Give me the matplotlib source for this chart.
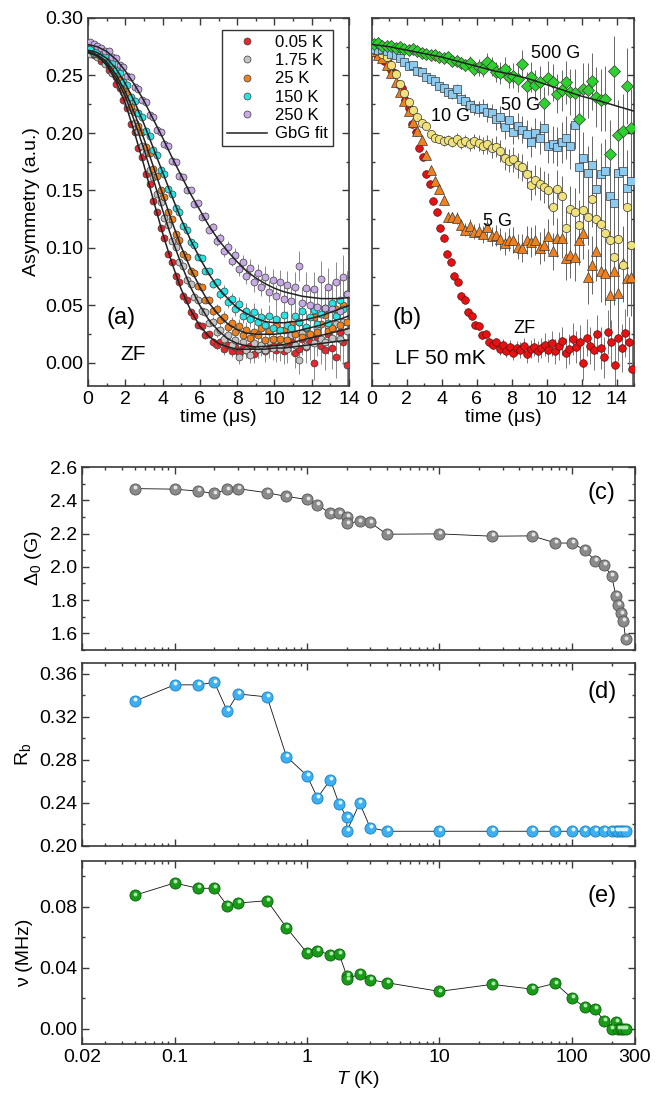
import numpy as np
import matplotlib
matplotlib.use('Agg')
import matplotlib.pyplot as plt
from matplotlib.ticker import MultipleLocator, LogLocator, NullFormatter, FormatStrFormatter
from matplotlib.transforms import offset_copy

# ---------------- panel (a): ZF asymmetry vs time ----------------
t_a = np.round(np.arange(0.1, 14.0, 0.2), 2)
a_005 = [0.271, 0.268, 0.268, 0.263, 0.262, 0.255, 0.252, 0.243, 0.239, 0.229,
         0.222, 0.208, 0.201, 0.187, 0.179, 0.164, 0.156, 0.141, 0.131, 0.117,
         0.109, 0.095, 0.088, 0.076, 0.070, 0.058, 0.055, 0.044, 0.041, 0.033,
         0.032, 0.024, 0.025, 0.018, 0.016, 0.018, 0.012, 0.016, 0.010, 0.014,
         0.009, 0.013, 0.011, 0.015, 0.008, 0.012, 0.014, 0.010, 0.013, 0.016,
         0.011, 0.017, 0.010, 0.015, 0.019, 0.009, 0.012, 0.021, 0.014, 0.018,
         0.000, 0.022, 0.015, 0.011, 0.025, 0.013, 0.005, 0.027, 0.018, -0.002]
a_175 = [0.269, 0.270, 0.266, 0.266, 0.260, 0.259, 0.252, 0.249, 0.241, 0.236,
         0.226, 0.220, 0.209, 0.202, 0.189, 0.183, 0.168, 0.162, 0.147, 0.140,
         0.126, 0.120, 0.106, 0.101, 0.088, 0.084, 0.072, 0.069, 0.057, 0.055,
         0.045, 0.044, 0.035, 0.036, 0.027, 0.029, 0.021, 0.024, 0.016, 0.020,
         0.005, 0.018, 0.011, 0.007, 0.017, 0.012, 0.016, 0.011, 0.019, 0.013,
         0.020, 0.013, 0.018, 0.012, 0.024, 0.016, 0.003, 0.026, 0.015, 0.024,
         0.017, 0.030, 0.021, 0.018, 0.032, 0.022, 0.034, 0.021, 0.036, 0.028]
a_25 = [0.272, 0.269, 0.269, 0.265, 0.264, 0.259, 0.257, 0.250, 0.246, 0.238,
        0.234, 0.223, 0.218, 0.206, 0.201, 0.188, 0.183, 0.169, 0.163, 0.150,
        0.144, 0.131, 0.125, 0.112, 0.107, 0.095, 0.092, 0.080, 0.078, 0.067,
        0.066, 0.055, 0.055, 0.045, 0.047, 0.037, 0.040, 0.031, 0.035, 0.027,
        0.032, 0.024, 0.029, 0.022, 0.027, 0.024, 0.030, 0.020, 0.028, 0.021,
        0.032, 0.021, 0.029, 0.020, 0.034, 0.025, 0.036, 0.023, 0.030, 0.025,
        0.040, 0.027, 0.034, 0.042, 0.028, 0.030, 0.047, 0.033, 0.050, 0.036]
a_150 = [0.273, 0.270, 0.271, 0.267, 0.267, 0.262, 0.261, 0.255, 0.252, 0.244,
         0.242, 0.231, 0.228, 0.217, 0.214, 0.202, 0.197, 0.185, 0.181, 0.168,
         0.164, 0.151, 0.147, 0.135, 0.131, 0.119, 0.116, 0.105, 0.103, 0.092,
         0.091, 0.080, 0.080, 0.069, 0.070, 0.060, 0.063, 0.053, 0.056, 0.047,
         0.051, 0.041, 0.045, 0.038, 0.044, 0.036, 0.040, 0.033, 0.041, 0.030,
         0.038, 0.029, 0.042, 0.033, 0.030, 0.041, 0.036, 0.045, 0.031, 0.040,
         0.046, 0.034, 0.043, 0.048, 0.035, 0.052, 0.041, 0.055, 0.047, 0.060]
a_250 = [0.279, 0.277, 0.276, 0.274, 0.271, 0.271, 0.266, 0.265, 0.259, 0.257,
         0.250, 0.249, 0.240, 0.238, 0.229, 0.227, 0.216, 0.214, 0.203, 0.201,
         0.190, 0.189, 0.176, 0.175, 0.163, 0.162, 0.150, 0.150, 0.138, 0.139,
         0.127, 0.128, 0.116, 0.118, 0.106, 0.109, 0.097, 0.101, 0.089, 0.094,
         0.082, 0.088, 0.076, 0.083, 0.070, 0.078, 0.066, 0.075, 0.062, 0.072,
         0.058, 0.070, 0.056, 0.068, 0.054, 0.066, 0.084, 0.052, 0.065, 0.050,
         0.064, 0.049, 0.073, 0.048, 0.066, 0.047, 0.070, 0.045, 0.075, 0.060]
err_a = [0.001, 0.001, 0.001, 0.001, 0.001, 0.001, 0.001, 0.001, 0.001, 0.001,
         0.001, 0.001, 0.001, 0.001, 0.001, 0.001, 0.001, 0.001, 0.001, 0.001,
         0.002, 0.002, 0.002, 0.002, 0.002, 0.002, 0.002, 0.002, 0.002, 0.002,
         0.003, 0.003, 0.003, 0.004, 0.004, 0.004, 0.005, 0.005, 0.005, 0.006,
         0.006, 0.006, 0.007, 0.007, 0.008, 0.008, 0.008, 0.009, 0.009, 0.010,
         0.010, 0.011, 0.011, 0.012, 0.012, 0.013, 0.013, 0.014, 0.014, 0.015,
         0.015, 0.016, 0.016, 0.017, 0.017, 0.018, 0.018, 0.019, 0.019, 0.020]

# GbG fit curves, sampled every 0.5 us
t_fit = np.arange(0, 14.01, 0.5)
fit_005 = [0.270, 0.267, 0.259, 0.245, 0.226, 0.200, 0.172, 0.142, 0.113, 0.087,
           0.064, 0.046, 0.032, 0.023, 0.017, 0.014, 0.012, 0.012, 0.012, 0.012,
           0.013, 0.013, 0.014, 0.015, 0.016, 0.017, 0.018, 0.019, 0.020]
fit_175 = [0.270, 0.267, 0.260, 0.248, 0.232, 0.210, 0.186, 0.160, 0.133, 0.108,
           0.086, 0.066, 0.050, 0.037, 0.028, 0.021, 0.017, 0.015, 0.014, 0.0145,
           0.015, 0.016, 0.018, 0.020, 0.022, 0.024, 0.026, 0.028, 0.030]
fit_25 = [0.271, 0.268, 0.262, 0.251, 0.236, 0.217, 0.195, 0.171, 0.147, 0.123,
          0.101, 0.082, 0.066, 0.052, 0.042, 0.034, 0.029, 0.026, 0.025, 0.025,
          0.025, 0.026, 0.027, 0.029, 0.031, 0.033, 0.036, 0.038, 0.041]
fit_150 = [0.272, 0.270, 0.265, 0.256, 0.243, 0.227, 0.208, 0.187, 0.166, 0.145,
           0.125, 0.107, 0.091, 0.077, 0.065, 0.056, 0.048, 0.043, 0.039, 0.036,
           0.035, 0.035, 0.036, 0.037, 0.039, 0.041, 0.044, 0.047, 0.050]
fit_250 = [0.277, 0.275, 0.271, 0.264, 0.254, 0.242, 0.228, 0.212, 0.196, 0.179,
           0.163, 0.147, 0.133, 0.119, 0.107, 0.097, 0.088, 0.080, 0.074, 0.069,
           0.065, 0.062, 0.060, 0.058, 0.057, 0.056, 0.056, 0.056, 0.057]

# ---------------- panel (b): LF at 50 mK ----------------
t_b = np.round(np.arange(0.1, 15.0, 0.25), 3)
lf_500 = [0.277, 0.278, 0.276, 0.276, 0.276, 0.274, 0.275, 0.273, 0.272, 0.273,
          0.271, 0.270, 0.269, 0.268, 0.268, 0.266, 0.265, 0.266, 0.263, 0.263,
          0.261, 0.259, 0.261, 0.256, 0.257, 0.256, 0.262, 0.258, 0.253, 0.252,
          0.256, 0.249, 0.250, 0.247, 0.260, 0.241, 0.249, 0.242, 0.244, 0.226,
          0.248, 0.244, 0.234, 0.237, 0.244, 0.236, 0.235, 0.212, 0.238, 0.237,
          0.245, 0.231, 0.229, 0.230, 0.182, 0.254, 0.198, 0.202, 0.241, 0.204]
lf_50 = [0.273, 0.272, 0.273, 0.271, 0.269, 0.268, 0.265, 0.262, 0.258, 0.259,
         0.254, 0.253, 0.249, 0.247, 0.245, 0.241, 0.239, 0.236, 0.234, 0.238,
         0.230, 0.228, 0.224, 0.222, 0.221, 0.222, 0.218, 0.217, 0.212, 0.214,
         0.205, 0.211, 0.201, 0.206, 0.203, 0.199, 0.192, 0.200, 0.196, 0.204,
         0.189, 0.190, 0.188, 0.192, 0.196, 0.189, 0.207, 0.170, 0.178, 0.165,
         0.172, 0.151, 0.164, 0.167, 0.145, 0.139, 0.165, 0.167, 0.152, 0.158]
lf_10 = [0.272, 0.271, 0.269, 0.266, 0.259, 0.251, 0.243, 0.235, 0.227, 0.220,
         0.214, 0.209, 0.206, 0.199, 0.196, 0.195, 0.193, 0.194, 0.192, 0.195,
         0.191, 0.193, 0.190, 0.193, 0.191, 0.189, 0.190, 0.187, 0.188, 0.184,
         0.178, 0.176, 0.177, 0.172, 0.170, 0.164, 0.155, 0.159, 0.156, 0.153,
         0.150, 0.136, 0.151, 0.145, 0.117, 0.134, 0.131, 0.120, 0.133, 0.127,
         0.143, 0.125, 0.121, 0.113, 0.107, 0.092, 0.108, 0.085, 0.136, 0.103]
lf_5 = [0.271, 0.268, 0.265, 0.259, 0.252, 0.244, 0.236, 0.228, 0.219, 0.210,
        0.202, 0.194, 0.181, 0.168, 0.158, 0.151, 0.142, 0.127, 0.127, 0.126,
        0.120, 0.116, 0.119, 0.114, 0.115, 0.112, 0.118, 0.110, 0.111, 0.108,
        0.104, 0.107, 0.107, 0.101, 0.100, 0.107, 0.105, 0.107, 0.100, 0.103,
        0.110, 0.097, 0.109, 0.109, 0.091, 0.094, 0.092, 0.107, 0.113, 0.075,
        0.085, 0.097, 0.080, 0.078, 0.059, 0.080, 0.061, 0.087, 0.074, 0.075]
err_b = [0.001, 0.001, 0.001, 0.001, 0.0015, 0.0015, 0.0015, 0.002, 0.002, 0.002,
         0.0025, 0.0025, 0.003, 0.003, 0.0035, 0.0035, 0.004, 0.004, 0.0045, 0.005,
         0.005, 0.0055, 0.006, 0.0065, 0.007, 0.0075, 0.008, 0.0085, 0.009, 0.0095,
         0.010, 0.010, 0.011, 0.011, 0.012, 0.012, 0.013, 0.013, 0.014, 0.014,
         0.015, 0.016, 0.017, 0.018, 0.019, 0.020, 0.021, 0.022, 0.023, 0.024,
         0.025, 0.026, 0.027, 0.028, 0.029, 0.030, 0.031, 0.032, 0.033, 0.034]
# ZF data at 50 mK (same run as 0.05 K), extended to 15 us
t_zf = np.append(t_a, [14.1, 14.3, 14.5, 14.7, 14.9])
zf = a_005 + [0.022, 0.013, 0.026, 0.018, -0.005]
err_zf = err_a + [0.020, 0.021, 0.021, 0.022, 0.022]
t_fit500 = np.arange(0, 15.01, 1.0)
fit_500 = [0.277, 0.275, 0.272, 0.269, 0.266, 0.262, 0.258, 0.254,
           0.251, 0.247, 0.242, 0.237, 0.232, 0.228, 0.2235, 0.219]

# ---------------- panels (c)-(e): fit parameters vs T ----------------
T = [0.05, 0.1, 0.15, 0.2, 0.25, 0.3, 0.5, 0.7, 1.0, 1.2, 1.5, 1.75, 2.0, 2.0,
     2.5, 3.0, 4.0, 10, 25, 50, 75, 100, 125, 150, 175, 200, 215, 225, 235, 245, 255]
delta0 = [2.470, 2.467, 2.455, 2.441, 2.465, 2.470, 2.445, 2.423, 2.405, 2.373,
          2.321, 2.321, 2.299, 2.261, 2.273, 2.267, 2.196, 2.198, 2.184, 2.186,
          2.144, 2.142, 2.102, 2.036, 2.010, 1.945, 1.827, 1.771, 1.720, 1.674, 1.564]
rb = [0.3345, 0.3497, 0.3497, 0.3519, 0.3254, 0.3413, 0.3385, 0.2831, 0.2654, 0.2448,
      0.2616, 0.2389, 0.2265, 0.2137, 0.2398, 0.2171, 0.2137, 0.2137, 0.2137, 0.2137,
      0.2137, 0.2137, 0.2137, 0.2137, 0.2137, 0.2137, 0.2137, 0.2137, 0.2137, 0.2137, 0.2137]
nu = [0.0875, 0.0956, 0.0921, 0.0921, 0.0807, 0.0824, 0.0840, 0.0663, 0.0498, 0.0511,
      0.0485, 0.0489, 0.0346, 0.0324, 0.0361, 0.0322, 0.0302, 0.0245, 0.0291, 0.0260,
      0.0298, 0.0201, 0.0143, 0.0130, 0.0051, 0.0000, 0.0046, 0.0000, 0.0000, 0.0000, 0.0000]

plt.rcParams['font.family'] = ['Liberation Sans', 'DejaVu Sans']
plt.rcParams['mathtext.fontset'] = 'custom'
plt.rcParams['mathtext.rm'] = 'Liberation Sans'
plt.rcParams['mathtext.it'] = 'Liberation Sans:italic'
plt.rcParams['font.size'] = 14
plt.rcParams['xtick.direction'] = 'in'
plt.rcParams['ytick.direction'] = 'in'
plt.rcParams['xtick.top'] = True
plt.rcParams['ytick.right'] = True
plt.rcParams['xtick.major.size'] = 5
plt.rcParams['ytick.major.size'] = 5
plt.rcParams['xtick.minor.size'] = 2.5
plt.rcParams['ytick.minor.size'] = 2.5
plt.rcParams['xtick.major.width'] = 1.0
plt.rcParams['ytick.major.width'] = 1.0
plt.rcParams['xtick.minor.width'] = 1.0
plt.rcParams['ytick.minor.width'] = 1.0
plt.rcParams['axes.linewidth'] = 1.2
plt.rcParams['axes.edgecolor'] = '#3a3a3a'
plt.rcParams['xtick.color'] = '#3a3a3a'
plt.rcParams['ytick.color'] = '#3a3a3a'
plt.rcParams['xtick.labelcolor'] = 'black'
plt.rcParams['ytick.labelcolor'] = 'black'
plt.rcParams['xtick.labelsize'] = 14
plt.rcParams['ytick.labelsize'] = 14

W, H = 666, 1097
fig = plt.figure(figsize=(W / 100, H / 100), dpi=100)


def box(l, t, r, b):
    return [l / W, 1 - b / H, (r - l) / W, (b - t) / H]


ax_a = fig.add_axes(box(88, 18, 349, 386))
ax_b = fig.add_axes(box(372, 18, 634, 386))
ax_c = fig.add_axes(box(82, 467, 635, 650))
ax_d = fig.add_axes(box(82, 663, 635, 846))
ax_e = fig.add_axes(box(82, 861, 635, 1044))

# ---- (a)
series_a = [(a_005, '#e8262c', '0.05 K'), (a_175, '#c4c4c4', '1.75 K'),
            (a_25, '#f0821e', '25 K'), (a_150, '#28e4e4', '150 K'),
            (a_250, '#c8aae6', '250 K')]
for y, c, lab in series_a:
    ax_a.errorbar(t_a, y, yerr=err_a, fmt='none', ecolor='#8a8a8a', elinewidth=0.7, zorder=2)
    ax_a.plot(t_a, y, 'o', ms=5, mfc=c, mec='#3a3a3a', mew=0.5, ls='none', label=lab, zorder=3)
for i, f in enumerate([fit_005, fit_175, fit_25, fit_150, fit_250]):
    ax_a.plot(t_fit, f, '-', color='#222222', lw=1.1, zorder=4,
              label='GbG fit' if i == 0 else None)
ax_a.set_xlim(0, 14)
ax_a.set_ylim(-0.02, 0.30)
ax_a.xaxis.set_major_locator(MultipleLocator(2))
ax_a.xaxis.set_minor_locator(MultipleLocator(1))
ax_a.yaxis.set_major_locator(MultipleLocator(0.05))
ax_a.yaxis.set_minor_locator(MultipleLocator(0.025))
ax_a.yaxis.set_major_formatter(FormatStrFormatter('%.2f'))
ax_a.set_xlabel('time (μs)', fontsize=14, labelpad=1)
ax_a.set_ylabel('Asymmetry (a.u.)', fontsize=14, labelpad=4)
ax_a.text(1.75, 0.039, '(a)', fontsize=17, ha='center', va='center')
ax_a.text(2.4, 0.007, 'ZF', fontsize=15, ha='center', va='center')
ax_a.legend(loc='upper right', bbox_to_anchor=(0.94, 0.968), fontsize=12,
            frameon=True, fancybox=False, edgecolor='#333333', framealpha=1,
            handlelength=2.4, handletextpad=0.5, labelspacing=0.2,
            borderpad=0.3, borderaxespad=0)

# ---- (b)
ax_b.errorbar(t_zf, zf, yerr=err_zf, fmt='none', ecolor='#777777', elinewidth=0.7, zorder=2)
ax_b.plot(t_zf, zf, 'o', ms=5.5, mfc='#e81010', mec='#5a1010', mew=0.5, ls='none', zorder=3)
series_b = [(lf_5, '^', '#f0801e', 7.0), (lf_10, 'o', '#f0e27a', 6.0),
            (lf_50, 's', '#8ccaf0', 5.5), (lf_500, 'D', '#2ed22e', 5.8)]
for y, m, c, ms in series_b:
    ax_b.errorbar(t_b, y, yerr=err_b, fmt='none', ecolor='#666666', elinewidth=0.7, zorder=2)
    ax_b.plot(t_b, y, m, ms=ms, mfc=c, mec='#3a3a3a', mew=0.5, ls='none', zorder=3)
ax_b.plot(t_fit500, fit_500, '-', color='#222222', lw=1.1, zorder=4)
ax_b.set_xlim(0, 15)
ax_b.set_ylim(-0.02, 0.30)
ax_b.xaxis.set_major_locator(MultipleLocator(2))
ax_b.xaxis.set_minor_locator(MultipleLocator(1))
ax_b.yaxis.set_major_locator(MultipleLocator(0.05))
ax_b.yaxis.set_minor_locator(MultipleLocator(0.025))
ax_b.tick_params(axis='y', labelleft=False)
ax_b.set_xlabel('time (μs)', fontsize=14, labelpad=1)
ax_b.text(10.5, 0.269, '500 G', fontsize=13, ha='center', va='center')
ax_b.text(8.5, 0.224, '50 G', fontsize=13, ha='center', va='center')
ax_b.text(4.5, 0.214, '10 G', fontsize=13, ha='center', va='center')
ax_b.text(7.2, 0.123, '5 G', fontsize=13, ha='center', va='center')
ax_b.text(8.7, 0.030, 'ZF', fontsize=13, ha='center', va='center')
ax_b.text(2.0, 0.039, '(b)', fontsize=17, ha='center', va='center')
ax_b.text(3.9, 0.004, 'LF 50 mK', fontsize=15, ha='center', va='center')


# ---- (c)-(e)
def spheres(ax, x, y, base, light, edge):
    ax.plot(x, y, '-', color='#111111', lw=0.6, zorder=2)
    ax.plot(x, y, 'o', ms=8, mfc=base, mec=edge, mew=0.6, ls='none', zorder=3)
    tr = offset_copy(ax.transData, fig=fig, x=0.8, y=1.8, units='dots')
    ax.plot(x, y, 'o', ms=2.8, mfc=light, mec='none', ls='none', zorder=4, transform=tr)


spheres(ax_c, T, delta0, '#8a8a8a', '#e4e4e4', '#555555')
spheres(ax_d, T, rb, '#3cb0f2', '#e0f4ff', '#1a80c0')
spheres(ax_e, T, nu, '#189c18', '#b0e8b0', '#0c600c')

for ax in (ax_c, ax_d, ax_e):
    ax.set_xscale('log')
    ax.set_xlim(0.02, 300)
    ax.set_xticks([0.02, 0.1, 1, 10, 100, 300])
    ax.set_xticklabels(['0.02', '0.1', '1', '10', '100', '300'])
    ax.xaxis.set_minor_locator(LogLocator(base=10, subs=np.arange(2, 10)))
    ax.xaxis.set_minor_formatter(NullFormatter())
for ax in (ax_c, ax_d):
    ax.tick_params(axis='x', labelbottom=False)

ax_c.set_ylim(1.5, 2.6)
ax_c.yaxis.set_major_locator(MultipleLocator(0.2))
ax_c.yaxis.set_minor_locator(MultipleLocator(0.1))
ax_c.yaxis.set_major_formatter(FormatStrFormatter('%.1f'))
ax_c.set_ylabel('Δ$_0$ (G)', fontsize=14)
ax_c.text(0.94, 0.86, '(c)', transform=ax_c.transAxes, fontsize=17, ha='center', va='center')

ax_d.set_ylim(0.20, 0.37)
ax_d.yaxis.set_major_locator(MultipleLocator(0.04))
ax_d.yaxis.set_minor_locator(MultipleLocator(0.02))
ax_d.yaxis.set_major_formatter(FormatStrFormatter('%.2f'))
ax_d.set_ylabel('R$_\\mathrm{b}$', fontsize=14)
ax_d.text(0.94, 0.84, '(d)', transform=ax_d.transAxes, fontsize=17, ha='center', va='center')

ax_e.set_ylim(-0.01, 0.11)
ax_e.yaxis.set_major_locator(MultipleLocator(0.04))
ax_e.yaxis.set_minor_locator(MultipleLocator(0.02))
ax_e.yaxis.set_major_formatter(FormatStrFormatter('%.2f'))
ax_e.set_ylabel('ν (MHz)', fontsize=14)
ax_e.set_xlabel('$T$ (K)', fontsize=14, labelpad=2)
ax_e.text(0.94, 0.81, '(e)', transform=ax_e.transAxes, fontsize=17, ha='center', va='center')

fig.savefig('out.png', dpi=100)
